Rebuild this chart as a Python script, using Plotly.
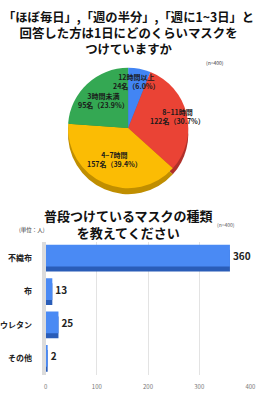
import math
import plotly.graph_objects as go

# ---- data ----
pie_labels = ["12時間以上", "8~11時間", "4~7時間", "3時間未満"]
pie_values = [24, 122, 157, 95]
pie_pcts = ["6.0%", "30.7%", "39.4%", "23.9%"]
pie_colors = ["#4285F4", "#EA4335", "#FBBC04", "#34A853"]
pie_dark = ["#2F66C0", "#B0302A", "#C08E00", "#25803F"]

bar_cats = ["不織布", "布", "ウレタン", "その他"]
bar_vals = [360, 13, 25, 2]
bar_ticks = [0, 100, 200, 300, 400]

title1 = ["「ほぼ毎日」,「週の半分」,「週に1~3日」と", "回答した方は1日にどのくらいマスクを", "つけていますか"]
title2 = ["普段つけているマスクの種類", "を教えてください"]

FONT = "Noto Sans CJK JP"
W, H = 270, 400

# pie geometry (pixels)
pcx, pcy, pr = 130, 128, 62
shadow = 6
label_r = [0.76, 0.84, 0.56, 0.6]

fig = go.Figure()

fig.add_trace(go.Pie(
    labels=pie_labels, values=pie_values, sort=False, direction="clockwise",
    rotation=0, marker=dict(colors=pie_dark, line=dict(width=0)),
    textinfo="none", hoverinfo="skip", showlegend=False,
    domain=dict(x=[(pcx - pr) / W, (pcx + pr) / W],
                y=[1 - (pcy + pr + shadow) / H, 1 - (pcy - pr + shadow) / H]),
))
fig.add_trace(go.Pie(
    labels=pie_labels, values=pie_values, sort=False, direction="clockwise",
    rotation=0, marker=dict(colors=pie_colors, line=dict(width=0)),
    textinfo="none", showlegend=False,
    domain=dict(x=[(pcx - pr) / W, (pcx + pr) / W],
                y=[1 - (pcy + pr) / H, 1 - (pcy - pr) / H]),
))


def ann(xpx, ypx, text, size, color="#111", bold=False):
    return dict(x=xpx / W, y=1 - ypx / H, xref="paper", yref="paper",
                xanchor="center", yanchor="middle", showarrow=False,
                text=f"<b>{text}</b>" if bold else text, align="center",
                font=dict(family=FONT, size=size, color=color))


annotations = []
total = sum(pie_values)
cum = 0
for lab, v, pct, rf in zip(pie_labels, pie_values, pie_pcts, label_r):
    mid = (cum + v / 2) / total * 2 * math.pi
    cum += v
    dx = math.sin(mid) * pr * rf
    dy = -math.cos(mid) * pr * rf
    annotations.append(ann(pcx + dx, pcy + dy, f"{lab}<br>{v}名（{pct}）", 7, "#1a1a1a", True))

# bar chart
fig.add_trace(go.Bar(
    x=bar_vals, y=bar_cats, orientation="h", xaxis="x", yaxis="y",
    marker=dict(color="#2A5DB8", line=dict(width=0)),
    width=0.65, offset=-0.25, hoverinfo="skip", showlegend=False,
))
fig.add_trace(go.Bar(
    x=bar_vals, y=bar_cats, orientation="h", xaxis="x", yaxis="y",
    marker=dict(color="#4A8AF4", line=dict(width=0)),
    width=0.65, offset=-0.4, showlegend=False,
    text=[str(v) for v in bar_vals], textposition="outside",
    textfont=dict(family=FONT, size=10, color="#222", weight="bold"),
    cliponaxis=False,
))

# titles
t1 = ('<span style="font-size:12.3px">' + title1[0] + "</span><br>" + "<br>".join(title1[1:]))
annotations.append(ann(130, 33, t1, 12.4, "#111", True))
annotations.append(ann(130, 224, "<br>".join(title2), 13, "#111", True))
annotations.append(ann(220, 62, "(n=400)", 5, "#333"))
annotations.append(ann(231, 224, "(n=400)", 5, "#555"))
annotations.append(ann(31, 230, "(単位：人)", 5.5, "#333"))

fig.update_layout(
    width=W, height=H, margin=dict(l=0, r=0, t=0, b=0),
    paper_bgcolor="white", plot_bgcolor="white",
    barmode="overlay", showlegend=False,
    font=dict(family=FONT),
    annotations=annotations,
    xaxis=dict(domain=[45 / W, 256 / W], range=[0, 400], tickvals=bar_ticks,
               showgrid=True, gridcolor="#e3e3e3", gridwidth=1, zeroline=False,
               tickfont=dict(family=FONT, size=6, color="#777"),
               ticks="outside", ticklen=6, tickcolor="rgba(0,0,0,0)",
               anchor="y", fixedrange=True),
    yaxis=dict(domain=[1 - 375 / H, 1 - 241.5 / H], autorange="reversed",
               showline=True, linecolor="#dcdcdc", linewidth=4,
               tickfont=dict(family=FONT, size=8, color="#222", weight="bold"),
               ticks="outside", ticklen=8, tickcolor="rgba(0,0,0,0)",
               anchor="x", fixedrange=True),
)

fig.write_html("out.html")
